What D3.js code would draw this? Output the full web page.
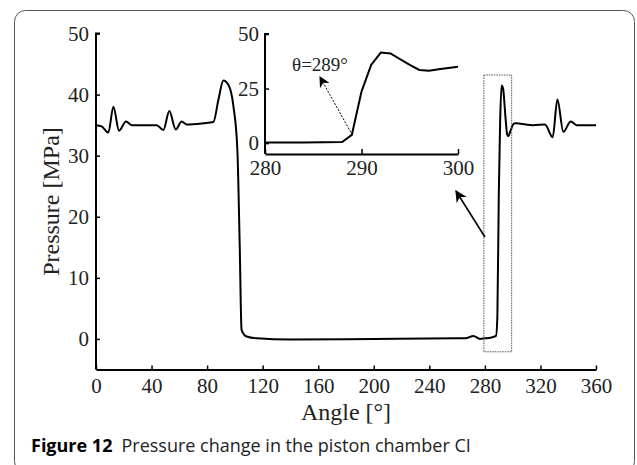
<!DOCTYPE html>
<html>
<head>
<meta charset="utf-8">
<script src="https://cdn.jsdelivr.net/npm/d3@7"></script>
<style>
  body { margin: 0; background: #fff; }
  svg { display: block; }
  .tick text { font-family: "Liberation Serif", "DejaVu Serif", serif; }
</style>
</head>
<body>
<svg id="chart" width="637" height="465"></svg>
<script>
// pressure in chamber CI over one revolution
const angles = [0, 4, 8.9, 12.5, 16.6, 21.6, 25.7, 35, 43.7, 48.5, 52.8, 57.4, 61.7, 65.3, 77.3, 84.5,
  88.1, 91.7, 95.3, 99, 101.8, 103.5, 104.8, 108.5, 115.7, 140, 200, 259.7, 266, 271.7, 276.5, 280,
  284, 288, 289, 290, 291, 292, 293, 295, 296, 297, 298, 299, 300, 301.7, 314.9, 323.3, 328.8, 332.2,
  336.5, 341.8, 346.1, 360];
const pressure = [35.0, 34.8, 33.8, 38.0, 34.1, 35.6, 35.0, 35.0, 35.0, 34.2, 37.3, 34.3, 35.6, 35.1, 35.3, 35.5,
  39.1, 42.3, 41.6, 38.0, 30.9, 15, 1.5, 0.4, 0.1, -0.1, 0.0, 0.1, 0.1, 0.5, 0.0, 0.1,
  0.2, 0.5, 3.8, 23.6, 35.8, 41.5, 41.1, 35.8, 33.5, 33.2, 33.8, 34.4, 35.0, 35.3, 35.0, 35.1, 33.0, 39.2,
  33.9, 35.6, 35.0, 35.0];

const xTicks = [0, 40, 80, 120, 160, 200, 240, 280, 320, 360];
const yTicks = [0, 10, 20, 30, 40, 50];
const insetXTicks = [280, 290, 300];
const insetYTicks = [0, 25, 50];
const zoomWindow = [280, 300];
const zoomRange = [-2.1, 43.2];
const onsetAngle = 289;

const svg = d3.select("#chart");
const serif = '"Liberation Serif", "DejaVu Serif", serif';
const data = angles.map((a, i) => ({ a, p: pressure[i] }));

// frame
svg.append("rect")
  .attr("x", 14.5).attr("y", 10.5)
  .attr("width", 620).attr("height", 462)
  .attr("rx", 11)
  .attr("fill", "none")
  .attr("stroke", "#555")
  .attr("stroke-width", 1);

svg.append("defs").selectAll("marker")
  .data(["head", "headSmall"])
  .enter()
  .append("marker")
  .attr("id", (d) => d)
  .attr("viewBox", "0 0 10 10")
  .attr("refX", 9).attr("refY", 5)
  .attr("markerUnits", "userSpaceOnUse")
  .attr("markerWidth", (d) => (d === "head" ? 14 : 13))
  .attr("markerHeight", (d) => (d === "head" ? 12 : 11))
  .attr("orient", "auto")
  .append("path")
  .attr("d", "M0,0 L10,5 L0,10 L3,5 Z")
  .attr("fill", "#000");

// main chart
const x = d3.scaleLinear().domain([0, 360]).range([96, 596]);
const y = d3.scaleLinear().domain([-5, 50]).range([369.5, 33.5]);

const line = d3.line()
  .x((d) => x(d.a))
  .y((d) => y(d.p))
  .curve(d3.curveMonotoneX);

function styleAxis(g, size) {
  g.select(".domain").attr("stroke", "#000").attr("stroke-width", 2);
  g.selectAll(".tick line").attr("stroke", "#000").attr("stroke-width", 1.5);
  g.selectAll(".tick text")
    .attr("font-size", size)
    .attr("fill", "#222")
    .attr("font-family", serif);
}

const gx = svg.append("g")
  .attr("transform", `translate(0,${y(-5)})`)
  .call(d3.axisBottom(x).tickValues(xTicks).tickSize(-4).tickPadding(19).tickSizeOuter(0));
styleAxis(gx, 21);
gx.selectAll(".tick text").attr("dy", "0.2em");

const gy = svg.append("g")
  .attr("transform", `translate(${x(0)},0)`)
  .call(d3.axisLeft(y).tickValues(yTicks).tickSize(-4).tickPadding(7).tickSizeOuter(0));
styleAxis(gy, 21);
gy.select(".domain").attr("d", `M0,${y(-5)}V${y(50)}H4`);

svg.append("path")
  .datum(data)
  .attr("d", line)
  .attr("fill", "none")
  .attr("stroke", "#000")
  .attr("stroke-width", 2);

svg.append("text")
  .attr("transform", `translate(59,${(y(-5) + y(50)) / 2}) rotate(-90)`)
  .attr("text-anchor", "middle")
  .attr("font-family", serif)
  .attr("font-size", 24)
  .attr("fill", "#222")
  .text("Pressure [MPa]");

svg.append("text")
  .attr("x", (x(0) + x(360)) / 2)
  .attr("y", 420)
  .attr("text-anchor", "middle")
  .attr("font-family", serif)
  .attr("font-size", 24)
  .attr("fill", "#222")
  .text("Angle [°]");

// dotted box round the zoomed window
svg.append("rect")
  .attr("x", x(zoomWindow[0]) - 1)
  .attr("y", y(zoomRange[1]))
  .attr("width", x(zoomWindow[1]) - x(zoomWindow[0]))
  .attr("height", y(zoomRange[0]) - y(zoomRange[1]))
  .attr("fill", "none")
  .attr("stroke", "#555")
  .attr("stroke-width", 1)
  .attr("stroke-dasharray", "1.5,1");

svg.append("line")
  .attr("x1", x(zoomWindow[0]))
  .attr("y1", 237)
  .attr("x2", 456)
  .attr("y2", 191)
  .attr("stroke", "#000")
  .attr("stroke-width", 1.6)
  .attr("marker-end", "url(#head)");

// inset
const ix = d3.scaleLinear().domain(zoomWindow).range([265, 458]);
const iy = d3.scaleLinear().domain([-5, 50]).range([154, 34]);
const insetData = data.filter((d) => d.a >= zoomWindow[0] && d.a <= zoomWindow[1]);
insetData.unshift({ a: 280, p: 0.3 }, { a: 284, p: 0.3 });
insetData.splice(2, 2);

const gix = svg.append("g")
  .attr("transform", `translate(0,${iy(-5)})`)
  .call(d3.axisBottom(ix).tickValues(insetXTicks).tickSize(-5).tickPadding(17).tickSizeOuter(0));
styleAxis(gix, 21);
gix.selectAll(".tick text").attr("dy", "0.2em");

const giy = svg.append("g")
  .attr("transform", `translate(${ix(280)},0)`)
  .call(d3.axisLeft(iy).tickValues(insetYTicks).tickSize(-4).tickPadding(6).tickSizeOuter(0));
styleAxis(giy, 21);
giy.select(".domain").attr("d", `M0,${iy(-5)}V${iy(50)}H4`);

const iline = d3.line()
  .x((d) => ix(d.a))
  .y((d) => iy(d.p));

svg.append("path")
  .datum(insetData)
  .attr("d", iline)
  .attr("fill", "none")
  .attr("stroke", "#000")
  .attr("stroke-width", 2);

svg.append("line")
  .attr("x1", ix(onsetAngle) - 1)
  .attr("y1", iy(4) - 2)
  .attr("x2", 320)
  .attr("y2", 77)
  .attr("stroke", "#000")
  .attr("stroke-width", 1)
  .attr("stroke-dasharray", "2,1.5")
  .attr("marker-end", "url(#headSmall)");

svg.append("text")
  .attr("x", 320)
  .attr("y", 71)
  .attr("text-anchor", "middle")
  .attr("font-family", serif)
  .attr("font-size", 19)
  .attr("fill", "#222")
  .text(`θ=${onsetAngle}°`);

// caption
const cap = svg.append("text")
  .attr("x", 31)
  .attr("y", 452)
  .attr("font-family", '"Open Sans", "Noto Sans", sans-serif')
  .attr("font-size", 18)
  .attr("fill", "#222");
cap.append("tspan").attr("font-weight", "bold").attr("fill", "#000").text("Figure 12");
cap.append("tspan").attr("dx", 9).text("Pressure change in the piston chamber CI");
</script>
</body>
</html>
